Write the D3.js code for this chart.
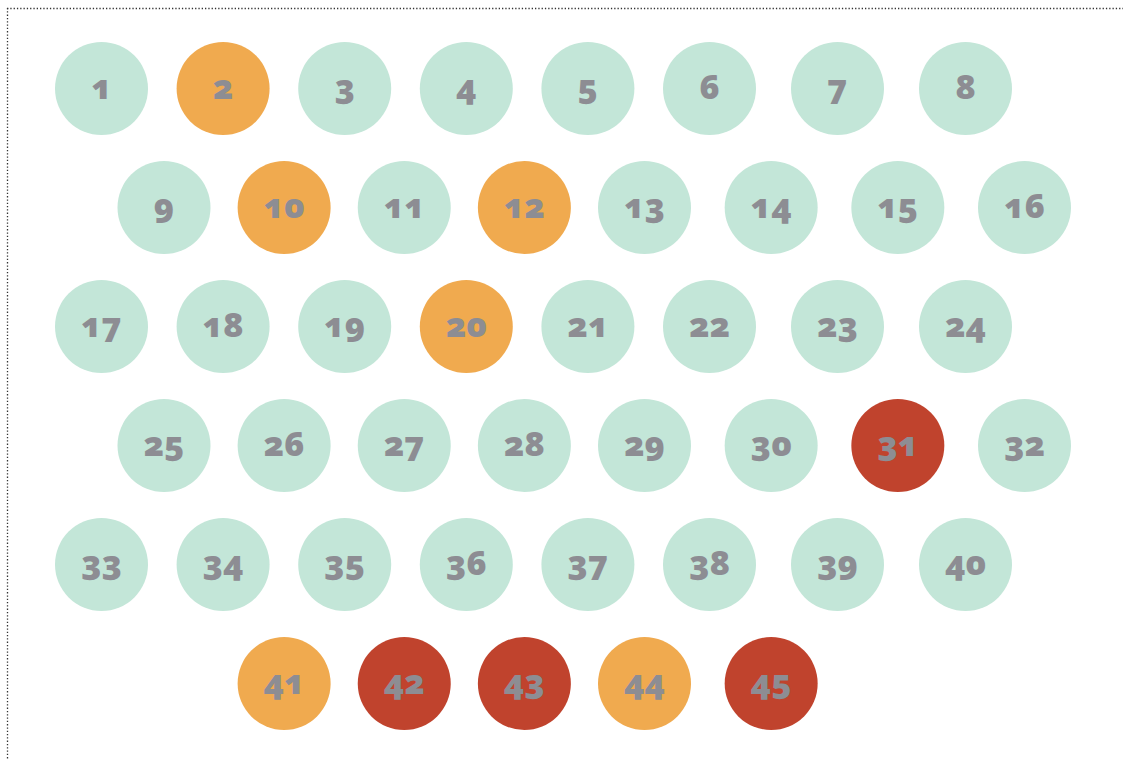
<!DOCTYPE html>
<html>
<head>
<meta charset="utf-8">
<script src="https://cdn.jsdelivr.net/npm/d3@7"></script>
<style>
  html, body { margin: 0; padding: 0; background: #fff; }
  svg { display: block; }
  .num { font-family: "Noto Sans", "DejaVu Sans", sans-serif; font-weight: 900; font-size: 34px;
         font-feature-settings: "onum" 1; font-variant-numeric: oldstyle-nums; }
</style>
</head>
<body>
<svg id="chart" width="1123" height="760"></svg>
<script>
// ---- data ----
const numbers = d3.range(1, 46);               // ball numbers 1..45
const orangeNumbers = [2, 10, 12, 20, 41, 44]; // highlighted (orange)
const redNumbers = [31, 42, 43, 45];           // highlighted (red)
const rowSizes = [8, 8, 8, 8, 8, 5];           // balls per row
const rowOffset = [0, 1, 0, 1, 0, 1];          // 0 = flush rows, 1 = shifted rows
const rowStartCol = [0, 0, 0, 0, 0, 1];        // first column used in each row

const colors = { normal: "#c3e6d8", orange: "#f0aa4f", red: "#c0432d" };
const textColor = "#8d8d93";

// ---- layout via scales ----
const svg = d3.select("#chart");
const W = 1123, H = 760;

const xFlush = d3.scaleLinear().domain([0, 5, 7]).range([101.5, 709.5, 965.5]);
const xShift = d3.scaleLinear().domain([0, 4, 7]).range([164, 644.5, 1024.5]);
const y = d3.scaleLinear().domain([0, 5]).range([88.5, 683.5]);
const r = 46.5;

const cells = [];
let k = 0;
rowSizes.forEach((n, row) => {
  for (let i = 0; i < n; i++) {
    const v = numbers[k++];
    cells.push({
      value: v,
      row: row,
      col: rowStartCol[row] + i,
      shifted: rowOffset[row] === 1,
      status: redNumbers.includes(v) ? "red" : orangeNumbers.includes(v) ? "orange" : "normal"
    });
  }
});

// dotted frame (top + left)
svg.append("line").attr("x1", 7).attr("x2", W).attr("y1", 8.5).attr("y2", 8.5)
  .attr("stroke", "#333").attr("stroke-width", 1.3).attr("stroke-dasharray", "1.3,2");
svg.append("line").attr("x1", 7.5).attr("x2", 7.5).attr("y1", 8).attr("y2", H)
  .attr("stroke", "#333").attr("stroke-width", 1.3).attr("stroke-dasharray", "1.3,2");

const g = svg.selectAll("g.ball").data(cells).join("g")
  .attr("class", "ball")
  .attr("transform", d => `translate(${(d.shifted ? xShift : xFlush)(d.col)},${y(d.row)})`);

g.append("circle").attr("r", r).attr("fill", d => colors[d.status]);

g.append("text").attr("class", "num")
  .attr("text-anchor", "middle")
  .attr("y", 10)
  .attr("fill", textColor)
  .text(d => d.value);
</script>
</body>
</html>
